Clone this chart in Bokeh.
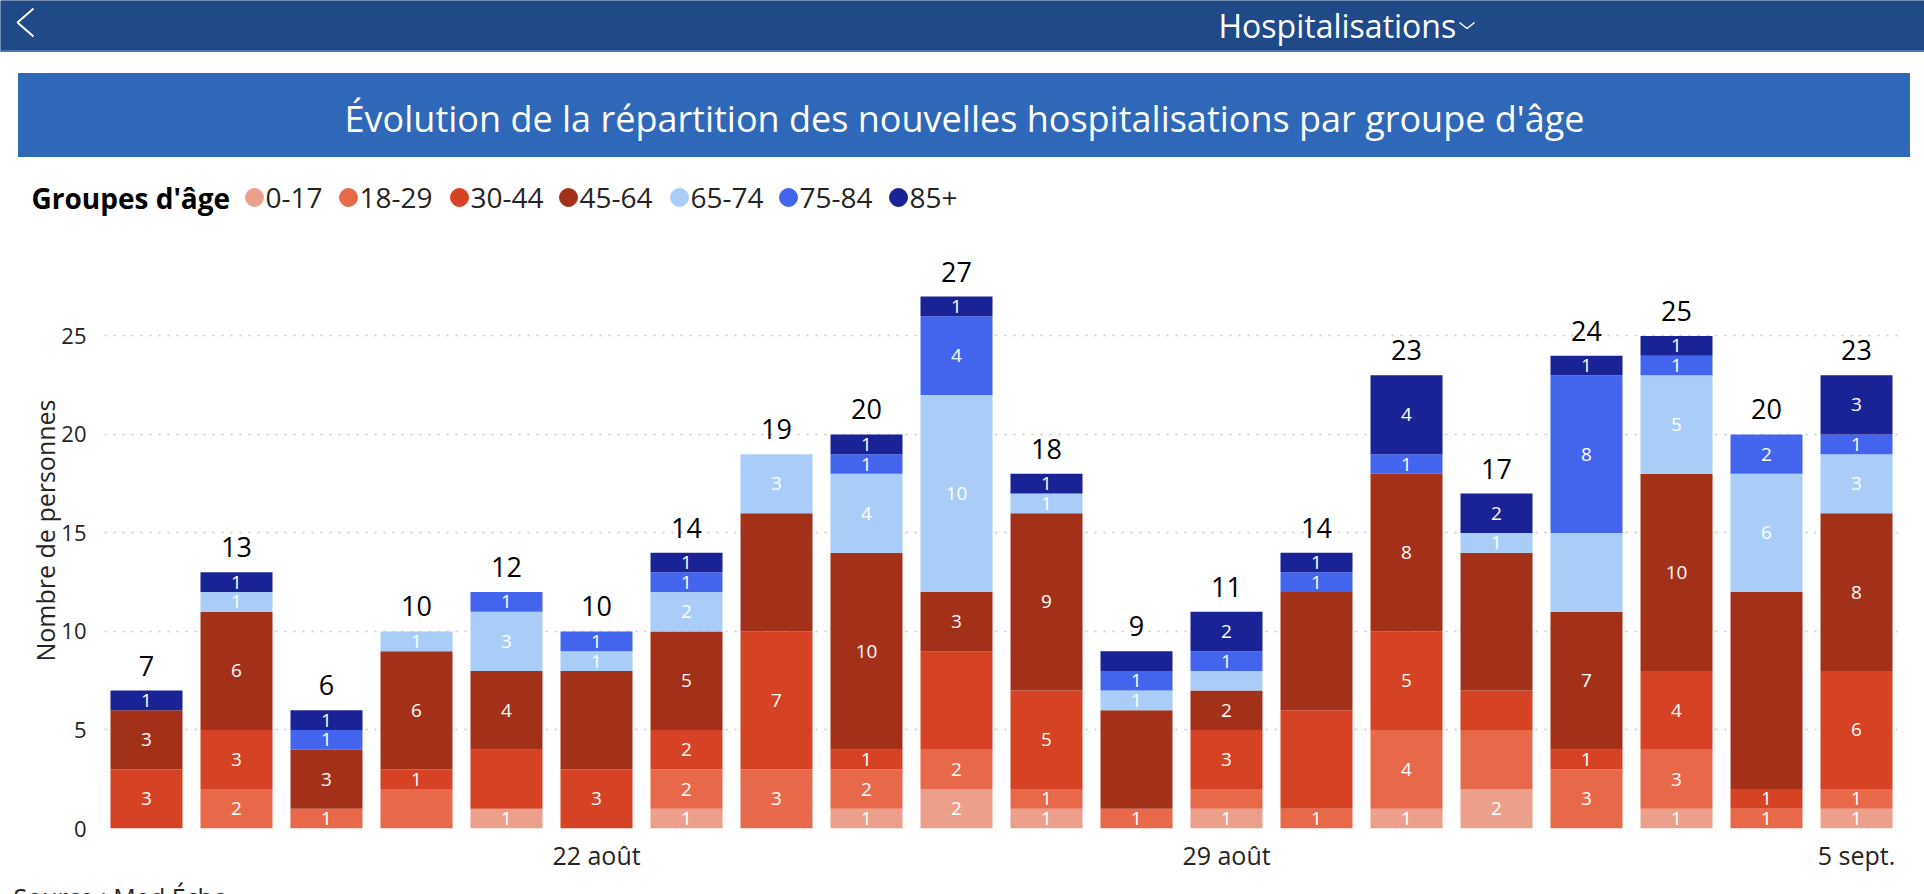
import numpy as np
from bokeh.plotting import figure
from bokeh.models import Range1d, FixedTicker, ColumnDataSource
from bokeh.layouts import column
from bokeh.embed import file_html
from bokeh.resources import INLINE
from bokeh.core.properties import value

# ---------------- data ----------------
dates = ["17 août", "18 août", "19 août", "20 août", "21 août", "22 août", "23 août",
         "24 août", "25 août", "26 août", "27 août", "28 août", "29 août", "30 août",
         "31 août", "1 sept.", "2 sept.", "3 sept.", "4 sept.", "5 sept."]
tick_dates = ["22 août", "29 août", "5 sept."]
groups = ["0-17", "18-29", "30-44", "45-64", "65-74", "75-84", "85+"]
a0_17 = [0, 0, 0, 0, 1, 0, 1, 0, 1, 2, 1, 0, 1, 0, 1, 2, 0, 1, 0, 1]
a18_29 = [0, 2, 1, 2, 0, 0, 2, 3, 2, 2, 1, 1, 1, 1, 4, 3, 3, 3, 1, 1]
a30_44 = [3, 3, 0, 1, 3, 3, 2, 7, 1, 5, 5, 0, 3, 5, 5, 2, 1, 4, 1, 6]
a45_64 = [3, 6, 3, 6, 4, 5, 5, 6, 10, 3, 9, 5, 2, 6, 8, 7, 7, 10, 10, 8]
a65_74 = [0, 1, 0, 1, 3, 1, 2, 3, 4, 10, 1, 1, 1, 0, 0, 1, 4, 5, 6, 3]
a75_84 = [0, 0, 1, 0, 1, 1, 1, 0, 1, 4, 0, 1, 1, 1, 1, 0, 8, 1, 2, 1]
a85p = [1, 1, 1, 0, 0, 0, 1, 0, 1, 1, 1, 1, 2, 1, 4, 2, 1, 1, 0, 3]
series = [a0_17, a18_29, a30_44, a45_64, a65_74, a75_84, a85p]

# data labels that the original chart does not display (date, group)
hidden_labels = [("20 août", "18-29"), ("21 août", "30-44"), ("22 août", "45-64"),
                 ("24 août", "45-64"), ("26 août", "30-44"), ("28 août", "45-64"),
                 ("28 août", "85+"), ("29 août", "18-29"), ("29 août", "65-74"),
                 ("30 août", "30-44"), ("30 août", "45-64"), ("1 sept.", "18-29"),
                 ("1 sept.", "30-44"), ("1 sept.", "45-64"), ("2 sept.", "65-74"),
                 ("4 sept.", "45-64")]

# ---------------- styles ----------------
colors = ["#EC9F8A", "#E8694A", "#D64224", "#A3311A", "#A9CDF7", "#4365EE", "#1A2396"]
FONT = value("Open Sans")
TXT = "#252423"
W = 1924


def blank(h):
    f = figure(width=W, height=h, x_range=Range1d(0, W), y_range=Range1d(h, 0),
               x_axis_type=None, y_axis_type=None, output_backend="svg",
               toolbar_location=None, min_border=0, frame_align=False)
    f.grid.visible = False
    f.outline_line_color = None
    f.background_fill_color = "white"
    f.border_fill_color = "white"
    return f


# ---------------- header (page y 0-52) ----------------
hdr = blank(52)
hdr.quad(left=0, right=W, top=0, bottom=50, color="#1F4A87")
hdr.quad(left=0, right=W, top=50, bottom=52, color="#4D78AE")
hdr.line(x=[33, 17, 33], y=[8, 22, 36], line_color="white", line_width=2)
hdr.text(x=[1218], y=[25], text=["Hospitalisations"], text_font=FONT,
         text_font_size="32px", text_color="white", text_baseline="middle",
         text_align="left")
hdr.line(x=[1459, 1466.5, 1474], y=[22, 28, 22], line_color="white", line_width=1.5)

# ---------------- title box (page y 52-157) ----------------
ttl = blank(105)
ttl.quad(left=18, right=1909, top=21, bottom=105, color="#2F68B9")
ttl.text(x=[964], y=[66], text=["Évolution de la répartition des nouvelles hospitalisations par groupe d'âge"],
         text_font=FONT, text_font_size="36px", text_color="white",
         text_baseline="middle", text_align="center")

# ---------------- legend (page y 157-232) ----------------
leg = blank(75)
leg.text(x=[31], y=[40], text=["Groupes d'âge"], text_font=FONT, text_font_size="28px",
         text_font_style="bold", text_color="black", text_baseline="middle")
leg_x = [254, 348, 459, 568, 679, 788, 898]
leg.scatter(x=leg_x, y=[40] * len(groups), size=18, color=colors, marker="circle")
leg.text(x=[v + 11 for v in leg_x], y=[40] * len(groups), text=groups, text_font=FONT,
         text_font_size="28px", text_color=TXT, text_baseline="middle")

# ---------------- main chart (page y 232-874) ----------------
n = len(dates)
xs = list(range(n))
p = figure(width=W, height=642, x_range=Range1d(-0.4667, 19.511), y_range=Range1d(0, 30.25),
           output_backend="svg", toolbar_location=None, frame_align=False,
           min_border_left=104, min_border_right=22, min_border_top=0, min_border_bottom=42)
p.outline_line_color = None
p.background_fill_color = "white"
p.border_fill_color = "white"

data = {"x": xs}
for g, s in zip(groups, series):
    data[g] = s
src = ColumnDataSource(data)
p.vbar_stack(groups, x="x", width=0.8, color=colors, line_color=None, source=src)

arr = np.array(series, dtype=float)
cum = np.cumsum(arr, axis=0)
mids = cum - arr / 2.0
lx, ly, lt = [], [], []
for gi, g in enumerate(groups):
    for i, d in enumerate(dates):
        v = series[gi][i]
        if v > 0 and (d, g) not in hidden_labels:
            lx.append(i)
            ly.append(mids[gi, i])
            lt.append(str(v))
p.text(x=lx, y=ly, text=lt, text_font=FONT, text_font_size="19px", text_color="white",
       text_align="center", text_baseline="middle")

totals = arr.sum(axis=0)
p.text(x=xs, y=list(totals), text=[str(int(t)) for t in totals], text_font=FONT,
       text_font_size="27px", text_color="black", text_align="center",
       text_baseline="middle", y_offset=-25)

# axes
p.yaxis.ticker = FixedTicker(ticks=[0, 5, 10, 15, 20, 25])
p.yaxis.axis_line_color = None
p.yaxis.major_tick_line_color = None
p.yaxis.minor_tick_line_color = None
p.yaxis.major_label_standoff = 12
p.yaxis.major_label_text_font = "Open Sans"
p.yaxis.major_label_text_font_size = "22px"
p.yaxis.major_label_text_color = TXT
p.yaxis.axis_label = "Nombre de personnes"
p.yaxis.axis_label_text_font = "Open Sans"
p.yaxis.axis_label_text_font_size = "25px"
p.yaxis.axis_label_text_font_style = "normal"
p.yaxis.axis_label_text_color = TXT
p.yaxis.axis_label_standoff = -4

tick_pos = [dates.index(d) for d in tick_dates]
p.xaxis.ticker = FixedTicker(ticks=tick_pos)
p.xaxis.major_label_overrides = {i: dates[i] for i in tick_pos}
p.xaxis.axis_line_color = None
p.xaxis.major_tick_line_color = None
p.xaxis.minor_tick_line_color = None
p.xaxis.major_label_standoff = 3
p.xaxis.major_label_text_font = "Open Sans"
p.xaxis.major_label_text_font_size = "25px"
p.xaxis.major_label_text_color = TXT

p.xgrid.grid_line_color = None
p.ygrid.ticker = FixedTicker(ticks=[0, 5, 10, 15, 20, 25])
p.ygrid.grid_line_color = "#C8C6C4"
p.ygrid.grid_line_dash = "2 7"
p.ygrid.grid_line_width = 1.5

# ---------------- source strip (page y 874-894) ----------------
srcfig = blank(20)
srcfig.text(x=[13], y=[5], text=["Source : Med Écho"], text_font=FONT, text_font_size="25px",
            text_color=TXT, text_baseline="top", text_align="left")

layout = column(hdr, ttl, leg, p, srcfig, spacing=0)
open("out.html", "w").write(file_html(layout, INLINE))
